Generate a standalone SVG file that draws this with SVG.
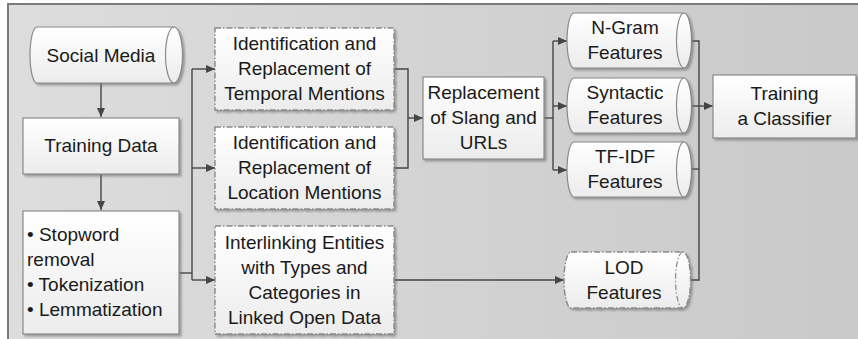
<svg xmlns="http://www.w3.org/2000/svg" width="858" height="339" viewBox="0 0 858 339">
<style>
.box{fill:url(#boxg);stroke:#8a8a8a;stroke-width:1.2;filter:url(#sh)}
.dbox{fill:url(#boxg);stroke:#8a8a8a;stroke-width:1.4;stroke-dasharray:6 2 1.5 2;filter:url(#sh)}
.cap{fill:none;stroke:#8a8a8a;stroke-width:1.2}
.dcap{fill:none;stroke:#8a8a8a;stroke-width:1.2;stroke-dasharray:6 2 1.5 2}
.t{font-family:"Liberation Sans",Arial,sans-serif;font-size:19px;fill:#1a1a1a;text-anchor:middle}
.tl{font-family:"Liberation Sans",Arial,sans-serif;font-size:19px;fill:#1a1a1a}
.c{fill:none;stroke:#454545;stroke-width:1.4}
.a{fill:none;stroke:#454545;stroke-width:1.4;marker-end:url(#arr)}
</style>
<defs>
<linearGradient id="bg" x1="0" y1="0" x2="1" y2="0">
<stop offset="0" stop-color="#dddddd"/>
<stop offset="1" stop-color="#c9c9c9"/>
</linearGradient>
<linearGradient id="boxg" x1="0" y1="0" x2="0" y2="1">
<stop offset="0" stop-color="#ffffff"/>
<stop offset="1" stop-color="#ececec"/>
</linearGradient>
<filter id="sh" x="-10%" y="-10%" width="130%" height="130%">
<feDropShadow dx="2" dy="2" stdDeviation="1" flood-color="#6e6e6e" flood-opacity="0.6"/>
</filter>
<marker id="arr" markerUnits="userSpaceOnUse" markerWidth="10" markerHeight="8" refX="9" refY="4" orient="auto">
<path d="M0,0 L9,4 L0,8 z" fill="#454545"/>
</marker>
</defs>
<rect x="0" y="0" width="858" height="339" fill="#ffffff"/>
<rect x="8" y="4" width="852" height="340" fill="url(#bg)"/>
<path d="M8,339 V4 H858" fill="none" stroke="#7a7a7a" stroke-width="2"/>

<g id="connectors">
<path class="a" d="M101,83 V117"/>
<path class="a" d="M101,174 V210"/>
<path class="c" d="M179,273 H192"/>
<path class="c" d="M192,69 V280"/>
<path class="a" d="M192,69 H215"/>
<path class="a" d="M192,168 H215"/>
<path class="a" d="M192,280 H215"/>
<path class="c" d="M394,69 H408 V168 H394"/>
<path class="a" d="M408,118 H423"/>
<path class="a" d="M394,280 H564"/>
<path class="c" d="M544,118 H553"/>
<path class="c" d="M553,41 V170"/>
<path class="a" d="M553,41 H567"/>
<path class="a" d="M553,106 H567"/>
<path class="a" d="M553,170 H567"/>
<path class="c" d="M685,41 H699 V280 H688"/>
<path class="c" d="M685,169 H699"/>
<path class="a" d="M685,106 H713"/>
</g>

<g id="social-media">
<path class="box" d="M37,27 H174 A8.5,28 0 0 1 174,83 H37 A7,28 0 0 1 37,27 Z"/>
<path class="cap" d="M174,27 A8.5,28 0 0 0 174,83"/>
<text class="t" x="101" y="62">Social Media</text>
</g>

<g id="training-data">
<rect class="box" x="23" y="118" width="156" height="56"/>
<text class="t" x="101" y="152">Training Data</text>
</g>

<g id="preprocessing">
<rect class="box" x="23" y="211" width="156" height="123"/>
<text class="tl" x="27" y="241">• Stopword</text>
<text class="tl" x="27" y="266">removal</text>
<text class="tl" x="27" y="291">• Tokenization</text>
<text class="tl" x="27" y="316">• Lemmatization</text>
</g>

<g id="temporal">
<rect class="dbox" x="215" y="28" width="179" height="82"/>
<text class="t" x="304.5" y="50">Identification and</text>
<text class="t" x="304.5" y="75">Replacement of</text>
<text class="t" x="304.5" y="100">Temporal Mentions</text>
</g>

<g id="location">
<rect class="dbox" x="215" y="127" width="179" height="82"/>
<text class="t" x="304.5" y="149">Identification and</text>
<text class="t" x="304.5" y="174">Replacement of</text>
<text class="t" x="304.5" y="199">Location Mentions</text>
</g>

<g id="interlinking">
<rect class="dbox" x="215" y="226" width="179" height="108"/>
<text class="t" x="304.5" y="248.5">Interlinking Entities</text>
<text class="t" x="304.5" y="273.5">with Types and</text>
<text class="t" x="304.5" y="298.5">Categories in</text>
<text class="t" x="304.5" y="323.5">Linked Open Data</text>
</g>

<g id="slang">
<rect class="box" x="423" y="77" width="121" height="82"/>
<text class="t" x="483.5" y="99">Replacement</text>
<text class="t" x="483.5" y="124">of Slang and</text>
<text class="t" x="483.5" y="149">URLs</text>
</g>

<g id="ngram">
<path class="box" d="M574,13 H684 A7.5,27.5 0 0 1 684,68 H574 A7,27.5 0 0 1 574,13 Z"/>
<path class="cap" d="M684,13 A7.5,27.5 0 0 0 684,68"/>
<text class="t" x="625" y="34">N-Gram</text>
<text class="t" x="625" y="59">Features</text>
</g>

<g id="syntactic">
<path class="box" d="M574,78 H684 A7.5,27.5 0 0 1 684,133 H574 A7,27.5 0 0 1 574,78 Z"/>
<path class="cap" d="M684,78 A7.5,27.5 0 0 0 684,133"/>
<text class="t" x="625" y="99">Syntactic</text>
<text class="t" x="625" y="124">Features</text>
</g>

<g id="tfidf">
<path class="box" d="M574,142 H684 A7.5,27.5 0 0 1 684,197 H574 A7,27.5 0 0 1 574,142 Z"/>
<path class="cap" d="M684,142 A7.5,27.5 0 0 0 684,197"/>
<text class="t" x="625" y="163">TF-IDF</text>
<text class="t" x="625" y="188">Features</text>
</g>

<g id="lod">
<path class="dbox" d="M571,252 H683 A7.5,28 0 0 1 683,308 H571 A7,28 0 0 1 571,252 Z"/>
<path class="dcap" d="M683,252 A7.5,28 0 0 0 683,308"/>
<text class="t" x="624" y="274">LOD</text>
<text class="t" x="624" y="299">Features</text>
</g>

<g id="classifier">
<rect class="box" x="713" y="75" width="143" height="63"/>
<text class="t" x="784.5" y="100">Training</text>
<text class="t" x="784.5" y="125">a Classifier</text>
</g>
</svg>
